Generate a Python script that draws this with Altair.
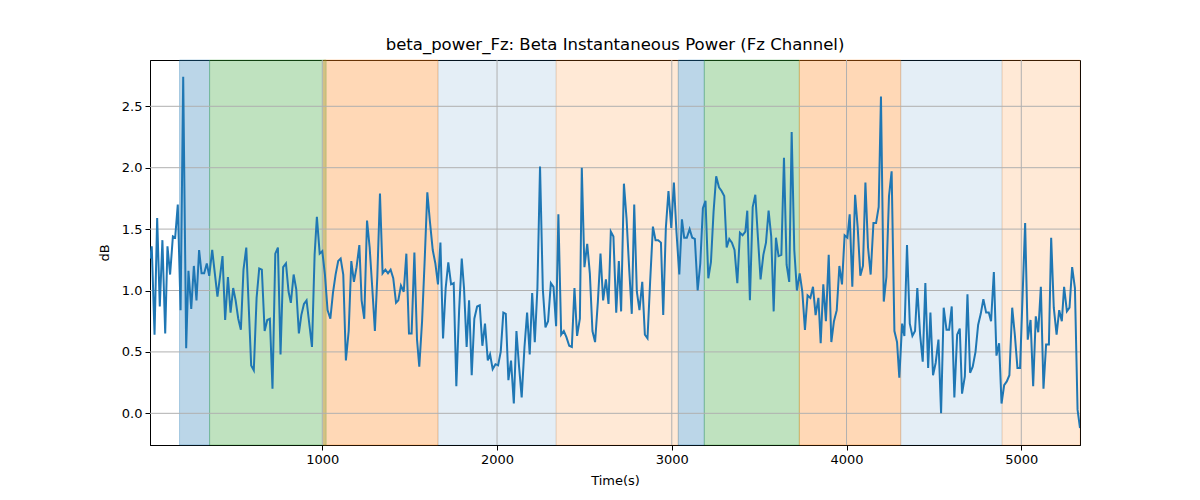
import altair as alt
import pandas as pd

# sample times (s) and beta power (dB)
time_s = [
    15, 24, 40, 55, 70, 85, 101, 114, 129, 145, 158, 173, 189, 204, 221, 234, 250, 265, 280, 295,
    309, 324, 339, 353, 370, 385, 400, 416, 429, 444, 460, 475, 490, 504, 519, 534, 549, 565, 593, 608,
    624, 639, 654, 670, 685, 700, 715, 731, 746, 761, 776, 792, 807, 820, 836, 851, 866, 880, 895, 910,
    941, 956, 969, 985, 1000, 1015, 1030, 1046, 1061, 1076, 1091, 1105, 1120, 1135, 1151, 1166, 1181, 1196, 1212, 1225,
    1240, 1256, 1271, 1286, 1301, 1315, 1330, 1345, 1361, 1376, 1391, 1406, 1422, 1435, 1450, 1466, 1481, 1496, 1511, 1527,
    1542, 1555, 1571, 1586, 1601, 1616, 1632, 1647, 1662, 1676, 1691, 1706, 1721, 1737, 1752, 1767, 1783, 1798,
    1811, 1826, 1840, 1855, 1870, 1886, 1901, 1916, 1931, 1947, 1960, 1975, 1991, 2006, 2021, 2036, 2050, 2065, 2080, 2096,
    2111, 2126, 2141, 2157, 2172, 2187, 2201, 2216, 2231, 2246, 2262, 2277, 2292, 2308, 2323, 2338, 2351, 2367, 2382, 2397,
    2413, 2428, 2443, 2458, 2474, 2485, 2500, 2516, 2531, 2546, 2561, 2577, 2592, 2607, 2623, 2638, 2651, 2666, 2682, 2697,
    2710, 2726, 2741, 2756, 2771, 2785, 2800, 2815, 2831, 2846, 2861, 2876, 2892, 2907, 2922, 2938, 2951, 2966, 2981, 2997,
    3012, 3027, 3043, 3058, 3071, 3086, 3102, 3117, 3132, 3148, 3163, 3178, 3193, 3209, 3224, 3239, 3254, 3270, 3285, 3300,
    3314, 3329, 3344, 3359, 3375, 3390, 3405, 3421, 3432, 3447, 3463, 3478, 3493, 3508, 3524, 3539, 3554, 3569, 3583,
    3596, 3611, 3627, 3642, 3657, 3672, 3686, 3701, 3716, 3732, 3747, 3762, 3777, 3793, 3808, 3823, 3839, 3852, 3867, 3882,
    3898, 3913, 3928, 3944, 3959, 3974, 3989, 4005, 4018, 4033, 4049, 4064, 4079, 4094, 4108, 4123, 4138, 4154, 4169, 4184,
    4197, 4213, 4228, 4243, 4258, 4274, 4289, 4302, 4318, 4331, 4346, 4362, 4377, 4392, 4405, 4421, 4436, 4451, 4467,
    4480, 4495, 4510, 4526, 4541, 4556, 4572, 4587, 4602, 4617, 4633, 4648, 4661, 4677, 4692, 4707, 4722, 4738, 4753, 4768,
    4783, 4799, 4814, 4827, 4843, 4858, 4873, 4887, 4902, 4917, 4932, 4948, 4963, 4978, 4993, 5022, 5037, 5053, 5068, 5083,
    5097, 5112, 5127, 5142, 5158, 5171, 5186, 5202, 5217, 5232, 5245, 5261, 5276, 5291, 5307, 5322, 5336,
]
power_db = [
    1.26, 1.36, 0.64, 1.59, 0.87, 1.41, 0.65, 1.36, 1.13, 1.44, 1.43, 1.70, 0.84, 2.74, 0.53, 1.16, 0.85, 1.20, 0.92, 1.33,
    1.14, 1.14, 1.22, 1.12, 1.33, 1.14, 0.95, 1.13, 1.28, 0.76, 1.11, 0.82, 1.02, 0.92, 0.77, 0.68, 1.17, 1.35, 0.39, 0.35,
    0.94, 1.18, 1.17, 0.67, 0.76, 0.77, 0.20, 1.30, 1.35, 0.48, 1.19, 1.22, 0.99, 0.90, 1.13, 1.01, 0.65, 0.80, 0.89, 0.92,
    0.54, 1.29, 1.60, 1.30, 1.32, 1.13, 0.84, 0.77, 0.98, 1.13, 1.24, 1.26, 1.13, 0.43, 0.67, 1.24, 1.07, 1.19, 1.37, 0.92,
    0.77, 1.57, 1.35, 1.02, 0.67, 1.12, 1.79, 1.14, 1.17, 1.14, 1.17, 1.10, 0.90, 0.92, 1.04, 0.99, 1.30, 0.65, 0.65, 1.31,
    0.60, 0.38, 0.75, 1.25, 1.80, 1.56, 1.33, 1.22, 1.05, 1.39, 0.61, 1.02, 1.23, 1.05, 1.06, 0.22, 0.84, 1.26,
    1.02, 0.54, 0.92, 0.31, 0.77, 0.87, 0.88, 0.55, 0.73, 0.43, 0.48, 0.36, 0.40, 0.39, 0.50, 0.82, 0.81, 0.27, 0.43, 0.08,
    0.67, 0.38, 0.13, 0.54, 0.82, 0.48, 0.98, 0.58, 1.02, 2.01, 1.01, 0.70, 0.75, 1.06, 1.03, 0.71, 1.62, 0.64, 0.67, 0.62,
    0.55, 0.54, 1.02, 0.63, 0.77, 2.00, 1.19, 1.38, 1.14, 0.67, 0.58, 0.91, 1.30, 0.92, 1.09, 0.89, 1.48, 1.44, 0.82, 1.24,
    0.83, 1.87, 1.59, 1.18, 0.81, 1.70, 0.99, 0.84, 1.07, 0.64, 0.61, 1.07, 1.52, 1.41, 1.41, 1.39, 0.80, 1.51, 1.81, 1.51,
    1.88, 1.47, 1.13, 1.58, 1.43, 1.43, 1.50, 1.43, 1.42, 1.00, 1.22, 1.67, 1.73, 1.10, 1.23, 1.64, 1.93, 1.84, 1.81, 1.77,
    1.35, 1.42, 1.39, 1.33, 1.06, 1.47, 1.45, 1.48, 1.65, 0.92, 1.68, 1.78, 1.43, 1.09, 1.29, 1.39, 1.65, 1.44, 0.83,
    1.43, 1.28, 1.29, 2.08, 1.21, 1.07, 2.29, 1.33, 1.00, 1.14, 0.99, 0.68, 0.96, 0.94, 1.03, 0.80, 0.94, 0.57, 1.05, 0.75,
    1.29, 0.58, 0.75, 0.84, 1.20, 1.05, 1.45, 1.43, 1.62, 1.03, 1.78, 1.51, 1.12, 1.20, 1.88, 1.35, 1.13, 1.55, 1.55, 1.68,
    2.58, 0.91, 1.11, 1.77, 1.97, 0.67, 0.58, 0.29, 0.73, 0.63, 1.37, 0.73, 0.63, 0.67, 1.02, 0.64, 0.42, 1.06, 0.37,
    0.82, 0.31, 0.41, 0.60, 0.00, 0.86, 0.68, 0.68, 0.87, 0.13, 0.64, 0.69, 0.16, 0.30, 0.97, 0.33, 0.38, 0.50, 0.72, 0.81,
    0.93, 0.82, 0.82, 0.75, 1.15, 0.47, 0.57, 0.08, 0.23, 0.26, 0.31, 0.86, 0.64, 0.37, 0.37, 1.55, 0.60, 0.76, 0.22, 0.79,
    0.66, 1.03, 0.20, 0.56, 0.56, 1.43, 0.86, 0.64, 0.84, 0.75, 1.03, 0.83, 0.86, 1.19, 1.02, 0.03, -0.12,
]

# shaded phases
span_start = [183, 355, 1008, 1662, 2338, 3037, 3186, 3730, 4310, 4890]
span_end = [355, 1022, 1662, 2338, 3037, 3186, 3730, 4310, 4890, 5336]
span_color = ["#1f77b4", "#2ca02c", "#ff7f0e", "#1f77b4", "#ff7f0e",
              "#1f77b4", "#2ca02c", "#ff7f0e", "#1f77b4", "#ff7f0e"]
span_alpha = [0.3, 0.3, 0.3, 0.12, 0.17, 0.3, 0.3, 0.3, 0.12, 0.17]

x_ticks = [1000, 2000, 3000, 4000, 5000]
y_ticks = [0.0, 0.5, 1.0, 1.5, 2.0, 2.5]

power = pd.DataFrame({"time": time_s, "db": power_db})
spans = pd.DataFrame({"start": span_start, "end": span_end,
                      "color": span_color, "alpha": span_alpha})

x_scale = alt.Scale(domain=[14, 5336], nice=False, zero=False)
y_scale = alt.Scale(domain=[-0.258, 2.877], nice=False, zero=False)
x_axis = alt.Axis(values=x_ticks, format="d", title="Time(s)", titlePadding=8)
y_axis = alt.Axis(values=y_ticks, format=".1f", title="dB", titlePadding=10)

span_layer = alt.Chart(spans).mark_rect(strokeWidth=1).encode(
    x=alt.X("start:Q", scale=x_scale, axis=x_axis),
    x2="end:Q",
    y=alt.value(0),
    y2=alt.value(385),
    fill=alt.Fill("color:N", scale=None),
    stroke=alt.Stroke("color:N", scale=None),
    fillOpacity=alt.FillOpacity("alpha:Q", scale=None),
    strokeOpacity=alt.StrokeOpacity("alpha:Q", scale=None),
)

vgrid = alt.Chart(pd.DataFrame({"t": x_ticks})).mark_rule(
    color="#b0b0b0", strokeWidth=1
).encode(x=alt.X("t:Q", scale=x_scale, axis=x_axis))

hgrid = alt.Chart(pd.DataFrame({"v": y_ticks})).mark_rule(
    color="#b0b0b0", strokeWidth=1
).encode(y=alt.Y("v:Q", scale=y_scale, axis=y_axis))

line = alt.Chart(power).mark_line(color="#1f77b4", strokeWidth=2, clip=True).encode(
    x=alt.X("time:Q", scale=x_scale, axis=x_axis),
    y=alt.Y("db:Q", scale=y_scale, axis=y_axis),
)

chart = alt.layer(span_layer, vgrid, hgrid, line).properties(
    width=930,
    height=385,
    title=alt.TitleParams(
        "beta_power_Fz: Beta Instantaneous Power (Fz Channel)",
        font="DejaVu Sans", fontSize=16.5, fontWeight="normal", color="black", offset=6,
    ),
    autosize=alt.AutoSizeParams(type="none"),
    padding={"left": 142, "top": 52, "right": 10, "bottom": 50},
).configure_view(
    stroke="black", strokeWidth=1
).configure_axis(
    grid=False,
    labelFont="DejaVu Sans", labelFontSize=13, labelColor="black", labelPadding=3,
    tickColor="black", tickSize=5, domainColor="black", domainWidth=1,
    titleFont="DejaVu Sans", titleFontSize=13, titleFontWeight="normal", titleColor="black",
)

chart.save("out.html", embed_options={"renderer": "svg", "actions": False})
